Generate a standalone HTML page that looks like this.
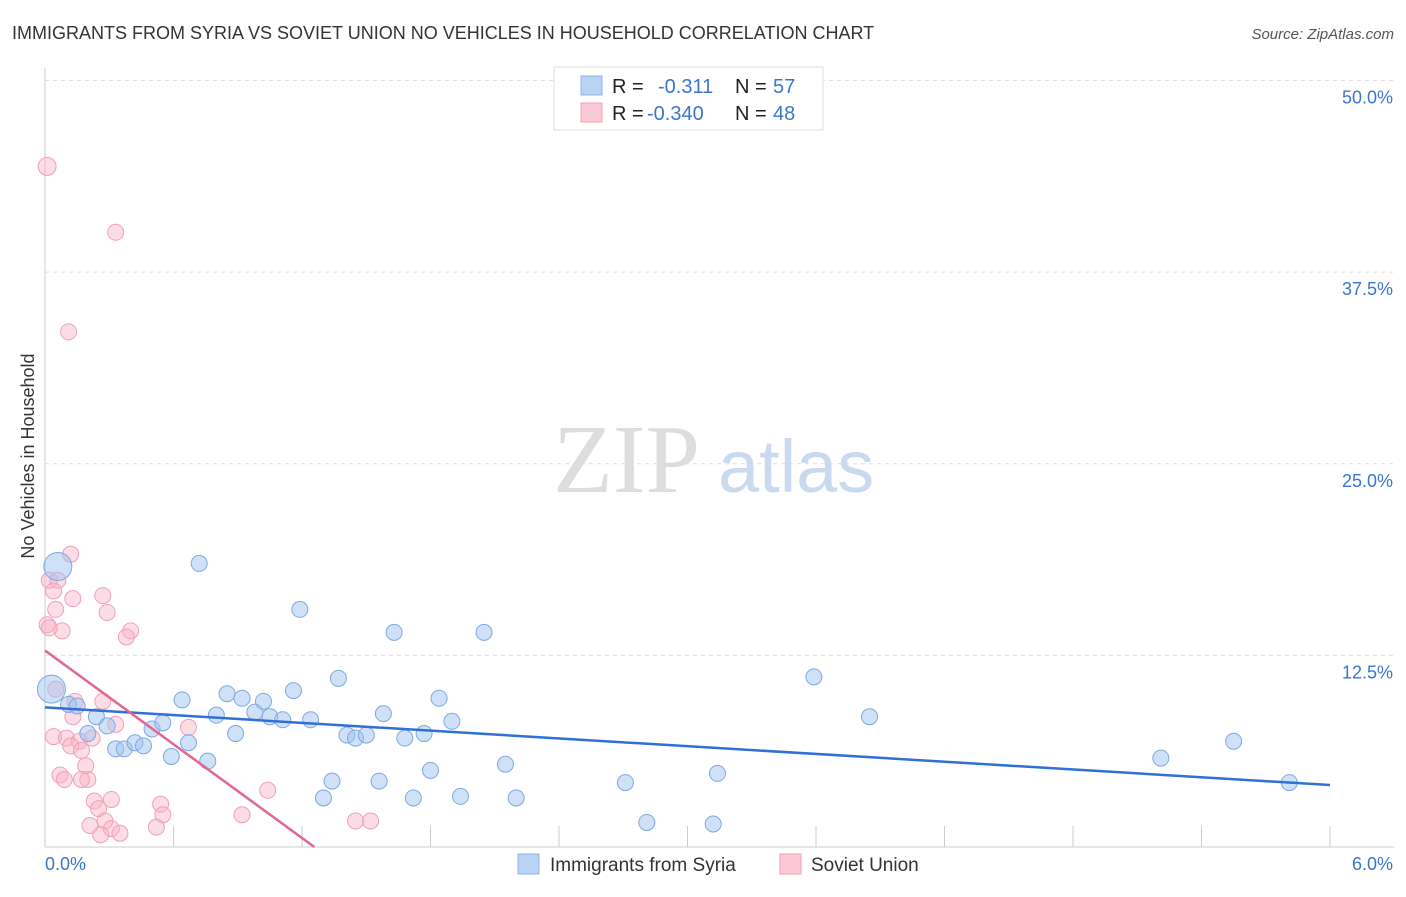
<!DOCTYPE html>
<html><head><meta charset="utf-8"><style>
body{margin:0;background:#fff;font-family:"Liberation Sans",sans-serif;}
svg text{font-family:"Liberation Sans",sans-serif;}
</style></head><body>
<svg id="chart" width="1406" height="892">
<text x="12" y="39" font-size="18" fill="#333">IMMIGRANTS FROM SYRIA VS SOVIET UNION NO VEHICLES IN HOUSEHOLD CORRELATION CHART</text>
<text x="1394" y="39" font-size="15" fill="#555" font-style="italic" text-anchor="end">Source: ZipAtlas.com</text>
<text x="34" y="456" font-size="18" fill="#333" text-anchor="middle" transform="rotate(-90 34 456)">No Vehicles in Household</text>
<g id="grid"></g>
<text x="553" y="492" font-size="98" fill="#ddd" style="font-family:'Liberation Serif',serif">ZIP</text>
<text x="718" y="492" font-size="74" fill="#c9d9f0">atlas</text>
<g id="pts"></g>
<g id="lines"></g>
<g>
<rect x="554" y="67" width="269" height="63" fill="#fff" stroke="#ddd"/>
<rect x="581" y="76" width="21" height="19" fill="#b9d3f5" stroke="#8fb4e8"/>
<rect x="581" y="103" width="21" height="19" fill="#fbc8d6" stroke="#f0a0b8"/>
<text x="612" y="93" font-size="20" fill="#222">R =</text>
<text x="658" y="93" font-size="20" fill="#3a76d0">-0.311</text>
<text x="735" y="93" font-size="20" fill="#222">N =</text>
<text x="773" y="93" font-size="20" fill="#3a76d0">57</text>
<text x="612" y="120" font-size="20" fill="#222">R =</text>
<text x="647" y="120" font-size="20" fill="#3a76d0">-0.340</text>
<text x="735" y="120" font-size="20" fill="#222">N =</text>
<text x="773" y="120" font-size="20" fill="#3a76d0">48</text>
</g>
<g>
<rect x="518" y="854" width="21" height="20" fill="#b9d3f5" stroke="#8fb4e8"/>
<text x="550" y="871" font-size="19" fill="#333">Immigrants from Syria</text>
<rect x="780" y="854" width="21" height="20" fill="#fbc8d6" stroke="#f0a0b8"/>
<text x="811" y="871" font-size="19" fill="#333">Soviet Union</text>
</g>
</svg>
<script>
const xTicksLabels=["0.0%","6.0%"];
const yTickValues=[12.5,25,37.5,50];
const syriaX=[0.06,0.03,0.11,0.15,0.24,0.2,0.29,0.33,0.37,0.42,0.46,0.5,0.55,0.59,0.64,0.67,0.72,0.76,0.8,0.85,0.89,0.92,0.98,1.02,1.05,1.11,1.16,1.19,1.24,1.3,1.34,1.37,1.41,1.45,1.5,1.56,1.58,1.63,1.68,1.72,1.77,1.8,1.84,1.9,1.94,2.05,2.15,2.2,2.71,2.81,3.12,3.14,3.59,3.85,5.21,5.55,5.81];
const syriaY=[18.3,10.3,9.3,9.2,8.5,7.4,7.9,6.4,6.4,6.8,6.6,7.7,8.1,5.9,9.6,6.8,18.5,5.6,8.6,10.0,7.4,9.7,8.8,9.5,8.5,8.3,10.2,15.5,8.3,3.2,4.3,11.0,7.3,7.1,7.3,4.3,8.7,14.0,7.1,3.2,7.4,5.0,9.7,8.2,3.3,14.0,5.4,3.2,4.2,1.6,1.5,4.8,11.1,8.5,5.8,6.9,4.2];
const sovietX=[0.01,0.33,0.11,0.12,0.02,0.06,0.04,0.13,0.27,0.05,0.29,0.01,0.08,0.4,0.38,0.05,0.14,0.27,0.13,0.33,0.67,0.04,0.1,0.16,0.12,0.22,0.17,0.19,0.07,0.09,0.2,0.17,0.31,0.23,0.25,0.54,0.55,1.04,0.92,0.21,0.28,0.31,0.52,0.26,0.35,1.45,1.52,0.02];
const sovietY=[44.4,40.1,33.6,19.1,17.4,17.4,16.7,16.2,16.4,15.5,15.3,14.5,14.1,14.1,13.7,10.3,9.5,9.5,8.5,8.0,7.8,7.2,7.1,6.9,6.6,7.1,6.3,5.3,4.7,4.4,4.4,4.4,3.1,3.0,2.5,2.8,2.1,3.7,2.1,1.4,1.7,1.2,1.3,0.8,0.9,1.7,1.7,14.3];
const X0=45,X1=1330,Y0=847,PY=15.33;
const sx=v=>X0+(X1-X0)*v/6, sy=v=>Y0-v*PY;
const NS="http://www.w3.org/2000/svg";
function mk(tag,attrs,parent){const e=document.createElementNS(NS,tag);for(const k in attrs)e.setAttribute(k,attrs[k]);parent.appendChild(e);return e;}
const grid=document.getElementById('grid');
mk('line',{x1:45,y1:68,x2:45,y2:847,stroke:'#ccc'},grid);
mk('line',{x1:45,y1:847,x2:1394,y2:847,stroke:'#ccc'},grid);
yTickValues.forEach(v=>{
 const g=mk('line',{x1:45,y1:sy(v),x2:1394,y2:sy(v),stroke:'#ddd','stroke-dasharray':'4,4'},grid);
 
 
 const t=mk('text',{x:1393,y:sy(v)+23,'font-size':18,fill:'#3a76d0','text-anchor':'end'},grid);
 t.textContent=v.toFixed(1)+'%';
 
 
});
for(let i=0;i<=10;i++){const x=sx(i*0.6);mk('line',{x1:x,y1:826,x2:x,y2:847,stroke:'#ccc'},grid);}
const xl=mk('text',{x:45,y:870,'font-size':18,fill:'#3a76d0'},grid);xl.textContent=xTicksLabels[0];


const xr=mk('text',{x:1393,y:870,'font-size':18,fill:'#3a76d0','text-anchor':'end'},grid);xr.textContent=xTicksLabels[1];


const pts=document.getElementById('pts');
sovietX.forEach((v,i)=>{const c=mk('circle',{cx:sx(v),cy:sy(sovietY[i]),r:i<1?9:8,fill:'rgba(248,180,200,0.45)',stroke:'#f0a0b8','stroke-width':1},pts);
 
 });
syriaX.forEach((v,i)=>{const c=mk('circle',{cx:sx(v),cy:sy(syriaY[i]),r:i<2?14:8,fill:'rgba(160,195,240,0.5)',stroke:'#7fa8e0','stroke-width':1},pts);
 
 });
function fit(xs,ys){const n=xs.length,mx=xs.reduce((a,b)=>a+b)/n,my=ys.reduce((a,b)=>a+b)/n;let sxy=0,sxx=0;xs.forEach((x,i)=>{sxy+=(x-mx)*(ys[i]-my);sxx+=(x-mx)**2});const b=sxy/sxx;return [my-b*mx,b];}
const lines=document.getElementById('lines');
const [a1,b1]=fit(syriaX,syriaY);
const l1=mk('line',{x1:sx(0),y1:sy(a1),x2:sx(6),y2:sy(a1+6*b1),stroke:'#2f6fd6','stroke-width':2.5},lines);


const [a2,b2]=fit(sovietX,sovietY);
const xe=Math.min(6,-a2/b2);
const l2=mk('line',{x1:sx(0),y1:sy(a2),x2:sx(xe),y2:sy(a2+xe*b2),stroke:'#e06890','stroke-width':2.5},lines);


</script>
</body></html>
